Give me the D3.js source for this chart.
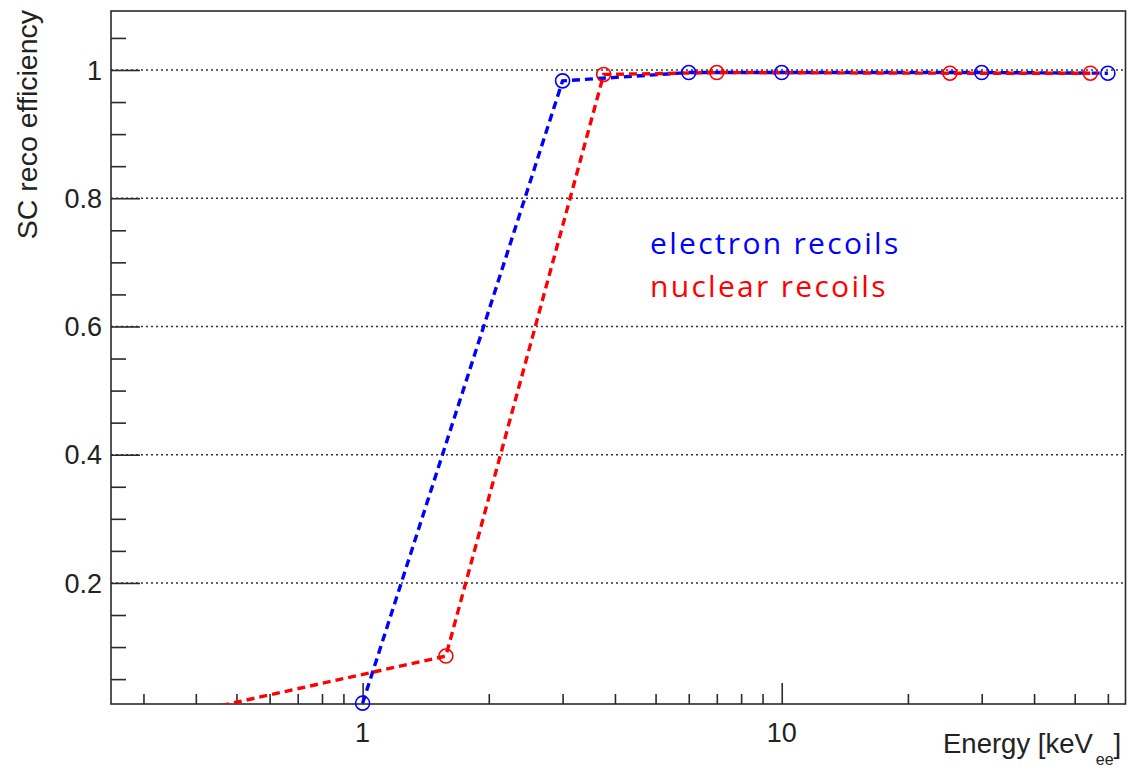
<!DOCTYPE html>
<html>
<head>
<meta charset="utf-8">
<script src="https://cdn.jsdelivr.net/npm/d3@7/dist/d3.min.js"></script>
<style>
  html, body { margin: 0; padding: 0; background: #fff; }
  svg { display: block; }
</style>
</head>
<body>
<div id="chart"></div>
<script>
// Reconstruction efficiency vs energy, electron and nuclear recoils
const electronEnergy = [1, 3, 6, 10, 30, 60];
const electronEff    = [0.0125, 0.983, 0.996, 0.996, 0.996, 0.995];
const nuclearEnergy  = [0.4, 1.58, 3.76, 7.0, 25.2, 54.5];
const nuclearEff     = [0.0, 0.086, 0.993, 0.996, 0.995, 0.995];

const xMajorTicks = [1, 10];
const xMinorTicks = [0.3, 0.4, 0.5, 0.6, 0.7, 0.8, 0.9, 2, 3, 4, 5, 6, 7, 8, 9, 20, 30, 40, 50, 60];
const yMajorTicks = [0.2, 0.4, 0.6, 0.8, 1.0];
const yMinorTicks = [0.05, 0.1, 0.15, 0.25, 0.3, 0.35, 0.45, 0.5, 0.55, 0.65, 0.7, 0.75, 0.85, 0.9, 0.95, 1.05];

const W = 1129, H = 770;
const frame = { left: 111, right: 1125.5, top: 11, bottom: 704 };

const svg = d3.select("#chart").append("svg")
  .attr("width", W).attr("height", H);

const x = d3.scaleLog().domain([0.251, 66.1]).range([frame.left, frame.right]);
const y = d3.scaleLinear().domain([0.0112, 1.092]).range([frame.bottom, frame.top]);

const axisColor = "#2a2a2a";
const labelFont = "'Liberation Sans', Arial, Helvetica, sans-serif";

// horizontal dotted grid
svg.append("g").selectAll("line").data(yMajorTicks).join("line")
  .attr("x1", frame.left).attr("x2", frame.right)
  .attr("y1", d => y(d)).attr("y2", d => y(d))
  .attr("stroke", "#333").attr("stroke-width", 1.4)
  .attr("stroke-dasharray", "2,3");

// y axis: ticks drawn inside the frame, ROOT style
const yAxisMajor = d3.axisRight(y).tickValues(yMajorTicks).tickSize(29).tickFormat("");
const yAxisMinor = d3.axisRight(y).tickValues(yMinorTicks).tickSize(15).tickFormat("");
[yAxisMajor, yAxisMinor].forEach(ax => {
  const g = svg.append("g").attr("transform", `translate(${frame.left},0)`).call(ax);
  g.select(".domain").remove();
  g.selectAll("line").attr("stroke", axisColor).attr("stroke-width", 1.6);
});

// x axis ticks pointing up into the frame
const xAxisMajor = d3.axisTop(x).tickValues(xMajorTicks).tickSize(21).tickFormat("");
const xAxisMinor = d3.axisTop(x).tickValues(xMinorTicks).tickSize(10).tickFormat("");
[xAxisMajor, xAxisMinor].forEach(ax => {
  const g = svg.append("g").attr("transform", `translate(0,${frame.bottom})`).call(ax);
  g.select(".domain").remove();
  g.selectAll("line").attr("stroke", axisColor).attr("stroke-width", 1.6);
});

// tick labels
svg.append("g").selectAll("text").data(yMajorTicks).join("text")
  .attr("x", frame.left - 9).attr("y", d => y(d)).attr("dy", "0.36em")
  .attr("text-anchor", "end")
  .style("font-family", labelFont).style("font-size", "27px").attr("fill", "#222")
  .text(d => d3.format("~g")(d));

svg.append("g").selectAll("text").data(xMajorTicks).join("text")
  .attr("x", d => x(d)).attr("y", 742)
  .attr("text-anchor", "middle")
  .style("font-family", labelFont).style("font-size", "27px").attr("fill", "#222")
  .text(d => d);

// frame
svg.append("rect")
  .attr("x", frame.left).attr("y", frame.top)
  .attr("width", frame.right - frame.left).attr("height", frame.bottom - frame.top)
  .attr("fill", "none").attr("stroke", axisColor).attr("stroke-width", 1.6);

// axis titles
svg.append("text")
  .attr("transform", `translate(37,${frame.top - 1}) rotate(-90)`)
  .attr("text-anchor", "end")
  .style("font-family", labelFont).style("font-size", "28.5px").attr("fill", "#222")
  .text("SC reco efficiency");

const xt = svg.append("text")
  .attr("x", 943).attr("y", 753)
  .style("font-family", labelFont).style("font-size", "27.5px").attr("fill", "#222");
xt.append("tspan").text("Energy [keV");
xt.append("tspan").attr("dx", 3).attr("dy", 12).style("font-size", "16px").text("ee");
xt.append("tspan").attr("dy", -12).attr("dx", 0).text("]");

// data
svg.append("defs").append("clipPath").attr("id", "plot-area")
  .append("rect")
  .attr("x", frame.left).attr("y", frame.top)
  .attr("width", frame.right - frame.left).attr("height", frame.bottom - frame.top);

const series = [
  { name: "electron", energy: electronEnergy, eff: electronEff, color: "#0000ff" },
  { name: "nuclear",  energy: nuclearEnergy,  eff: nuclearEff,  color: "#ff0000" }
];

const line = d3.line().x(d => x(d[0])).y(d => y(d[1]));
const plot = svg.append("g").attr("clip-path", "url(#plot-area)");

series.forEach(s => {
  const pts = d3.zip(s.energy, s.eff);
  plot.append("path")
    .datum(pts)
    .attr("d", line)
    .attr("fill", "none")
    .attr("stroke", s.color)
    .attr("stroke-width", 3.4)
    .attr("stroke-dasharray", "8,5");
});

series.forEach(s => {
  const pts = d3.zip(s.energy, s.eff).filter(d => d[1] >= y.domain()[0]);
  svg.append("g").selectAll("circle").data(pts).join("circle")
    .attr("cx", d => x(d[0])).attr("cy", d => y(d[1]))
    .attr("r", 7)
    .attr("fill", "none")
    .attr("stroke", s.color)
    .attr("stroke-width", 1.6);
});

// legend
const legendFont = "'Open Sans', 'Noto Sans', sans-serif";
svg.append("text").attr("x", 650).attr("y", 254)
  .style("font-family", legendFont).style("font-size", "30px")
  .style("letter-spacing", "2.3px").attr("fill", "#0000ff")
  .text("electron recoils");
svg.append("text").attr("x", 650).attr("y", 297)
  .style("font-family", legendFont).style("font-size", "30px")
  .style("letter-spacing", "2.3px").attr("fill", "#ff0000")
  .text("nuclear recoils");
</script>
</body>
</html>
